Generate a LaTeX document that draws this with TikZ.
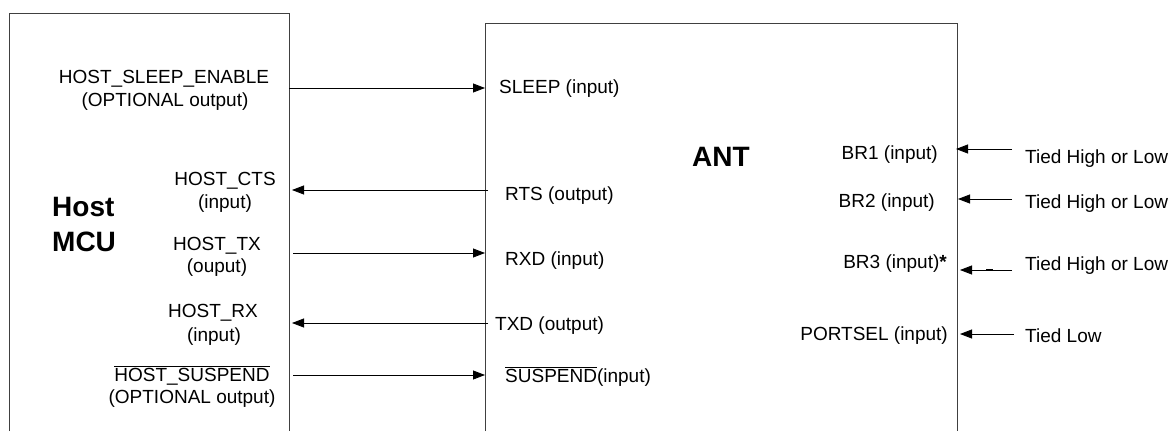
\documentclass[tikz,border=0pt]{standalone}
\usepackage{fontspec}
\setmainfont{Liberation Sans}
\usetikzlibrary{arrows.meta}
\begin{document}
\begin{tikzpicture}[x=1pt,y=-1pt,
  lbl/.style={inner sep=0pt,font=\fontsize{19}{23}\selectfont},
  big/.style={inner sep=0pt,font=\fontsize{28}{32}\selectfont\bfseries},
  box/.style={draw=black!75,line width=0.9pt},
  sig/.style={line width=0.8pt,-{Triangle[length=12pt,width=9pt]}}]
\useasboundingbox (0,0) rectangle (1172,431);
% boxes (open at the bottom)
\draw[box] (9,431) -- (9,13) -- (289,13) -- (289,431);
\draw[box] (485,431) -- (485,23) -- (957,23) -- (957,431);
% host labels
\node[big,anchor=base west] (host) at (52,216) {Host};
\node[big,anchor=base west] (mcu) at (52,251) {MCU};
\node[lbl,anchor=base] (hse1) at (164,83) {HOST\_SLEEP\_ENABLE};
\node[lbl,anchor=base] (hse2) at (165,106) {(OPTIONAL output)};
\node[lbl,anchor=base] (cts1) at (225,185) {HOST\_CTS};
\node[lbl,anchor=base] (cts2) at (225,208) {(input)};
\node[lbl,anchor=base] (tx1) at (217,250) {HOST\_TX};
\node[lbl,anchor=base] (tx2) at (217,272) {(ouput)};
\node[lbl,anchor=base] (rx1) at (213,317) {HOST\_RX};
\node[lbl,anchor=base] (rx2) at (214,341) {(input)};
\node[lbl,anchor=base] (hsu1) at (192,381) {$\overline{\mbox{HOST\_SUSPEND}}$};
\node[lbl,anchor=base] (hsu2) at (192,403) {(OPTIONAL output)};
% ANT labels
\node[big,anchor=base west] (ant) at (692,166) {ANT};
\node[lbl,anchor=base west] (sleep) at (499,93) {SLEEP (input)};
\node[lbl,anchor=base west] (rts) at (505,200) {RTS (output)};
\node[lbl,anchor=base west] (rxd) at (505,265) {RXD (input)};
\node[lbl,anchor=base west] (txd) at (495,330) {TXD (output)};
\node[lbl,anchor=base west] (susp) at (505,382) {$\overline{\mbox{SUSPEND}}$(input)};
\node[lbl,anchor=base east] (br1) at (938,159) {BR1 (input)};
\node[lbl,anchor=base east] (br2) at (935,207) {BR2 (input)};
\node[lbl,anchor=base east] (br3) at (947,268) {BR3 (input)\textbf{*}};
\node[lbl,anchor=base east] (psel) at (948,340) {PORTSEL (input)};
\node[lbl,anchor=base west] (t1) at (1025,163) {Tied High or Low};
\node[lbl,anchor=base west] (t2) at (1025,208) {Tied High or Low};
\node[lbl,anchor=base west] (t3) at (1025,270) {Tied High or Low};
\node[lbl,anchor=base west] (t4) at (1025,342) {Tied Low};
% connector end points
\coordinate (a1) at (289,88);  \coordinate (b1) at (485,88);
\coordinate (a2) at (292,190); \coordinate (b2) at (488,190);
\coordinate (a3) at (293,253); \coordinate (b3) at (485,253);
\coordinate (a4) at (292,323); \coordinate (b4) at (488,323);
\coordinate (a5) at (293,375); \coordinate (b5) at (485,375);
\coordinate (r1) at (1012,149); \coordinate (s1) at (956,149);
\coordinate (r2) at (1012,199); \coordinate (s2) at (958,199);
\coordinate (r3) at (1012,270); \coordinate (s3) at (960,270);
\coordinate (r4) at (1014,334); \coordinate (s4) at (960,334);
\draw[sig] (a1) -- (b1);
\draw[sig] (b2) -- (a2);
\draw[sig] (a3) -- (b3);
\draw[sig] (b4) -- (a4);
\draw[sig] (a5) -- (b5);
\draw[sig] (r1) -- (s1);
\draw[sig] (r2) -- (s2);
\draw[sig] (r3) -- (s3);
\draw[sig] (r4) -- (s4);
\coordinate (d1) at (986,270); \coordinate (d2) at (993,270);
\draw[line width=2pt] (d1) -- (d2);
\end{tikzpicture}
\end{document}
